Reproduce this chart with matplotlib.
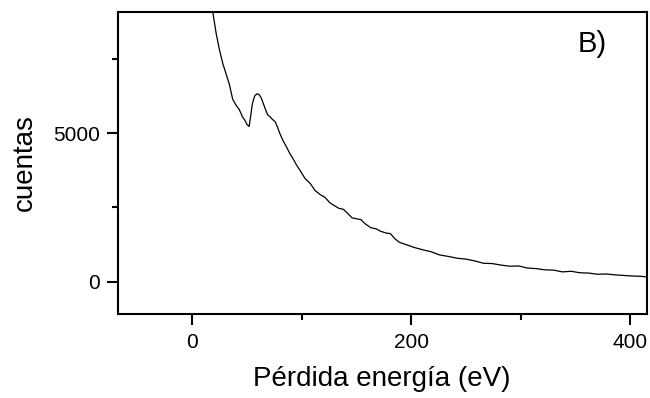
import matplotlib.pyplot as plt
from matplotlib.ticker import MultipleLocator

# energy loss (eV) and counts
energia = [14, 17, 19, 22, 25, 28, 31, 34, 37, 40, 43, 46, 48, 50, 52,
           53.5, 55, 57, 59, 61, 63, 65, 67, 69, 71, 73, 76, 78, 80,
           83, 86, 89, 92, 95, 99, 103, 108, 112, 117, 121, 126, 130,
           134, 138, 142, 146, 150, 154, 158, 163, 168, 172, 177, 181,
           185, 189, 196, 203, 211, 218, 226, 234, 242, 250, 258, 266,
           274, 282, 290, 298, 306, 314, 322, 330, 338, 346, 354, 362,
           370, 378, 386, 394, 402, 410, 415]
cuentas = [10600, 9700, 9050, 8350, 7800, 7350, 7000, 6650, 6150, 5950,
           5800, 5550, 5450, 5300, 5230, 5600, 6000, 6250, 6330, 6310,
           6200, 6000, 5800, 5620, 5560, 5480, 5380, 5200, 5000, 4750,
           4550, 4330, 4150, 3950, 3720, 3480, 3300, 3080, 2930, 2850,
           2650, 2560, 2470, 2440, 2300, 2150, 2120, 2090, 1950, 1820,
           1780, 1700, 1640, 1620, 1450, 1330, 1240, 1150, 1070, 1010,
           900, 850, 790, 760, 700, 620, 610, 560, 520, 530, 460, 440,
           400, 390, 330, 350, 300, 290, 250, 260, 230, 210, 190, 180, 160]

plt.rcParams['font.family'] = ['Liberation Sans', 'DejaVu Sans']

fig = plt.figure(figsize=(6.5, 3.98), dpi=100)
ax = fig.add_axes([0.181, 0.211, 0.814, 0.759])

ax.plot(energia, cuentas, color='black', lw=0.9)

ax.set_xlim(-68, 415)
ax.set_ylim(-1090, 9090)
ax.xaxis.set_major_locator(MultipleLocator(200))
ax.xaxis.set_minor_locator(MultipleLocator(100))
ax.yaxis.set_major_locator(MultipleLocator(5000))
ax.yaxis.set_minor_locator(MultipleLocator(2500))

ax.tick_params(which='major', direction='out', length=8, width=1.5,
               labelsize=15, pad=5)
ax.tick_params(which='minor', direction='out', length=4, width=1.5)
ax.tick_params(axis='x', which='major', pad=6)
for s in ax.spines.values():
    s.set_linewidth(1.5)

ax.set_xlabel('Pérdida energía (eV)', fontsize=20, labelpad=10)
ax.set_ylabel('cuentas', fontsize=20, labelpad=11)

ax.text(0.87, 0.894, 'B)', transform=ax.transAxes, fontsize=21,
        ha='left', va='center')

fig.savefig('out.png', dpi=100)
